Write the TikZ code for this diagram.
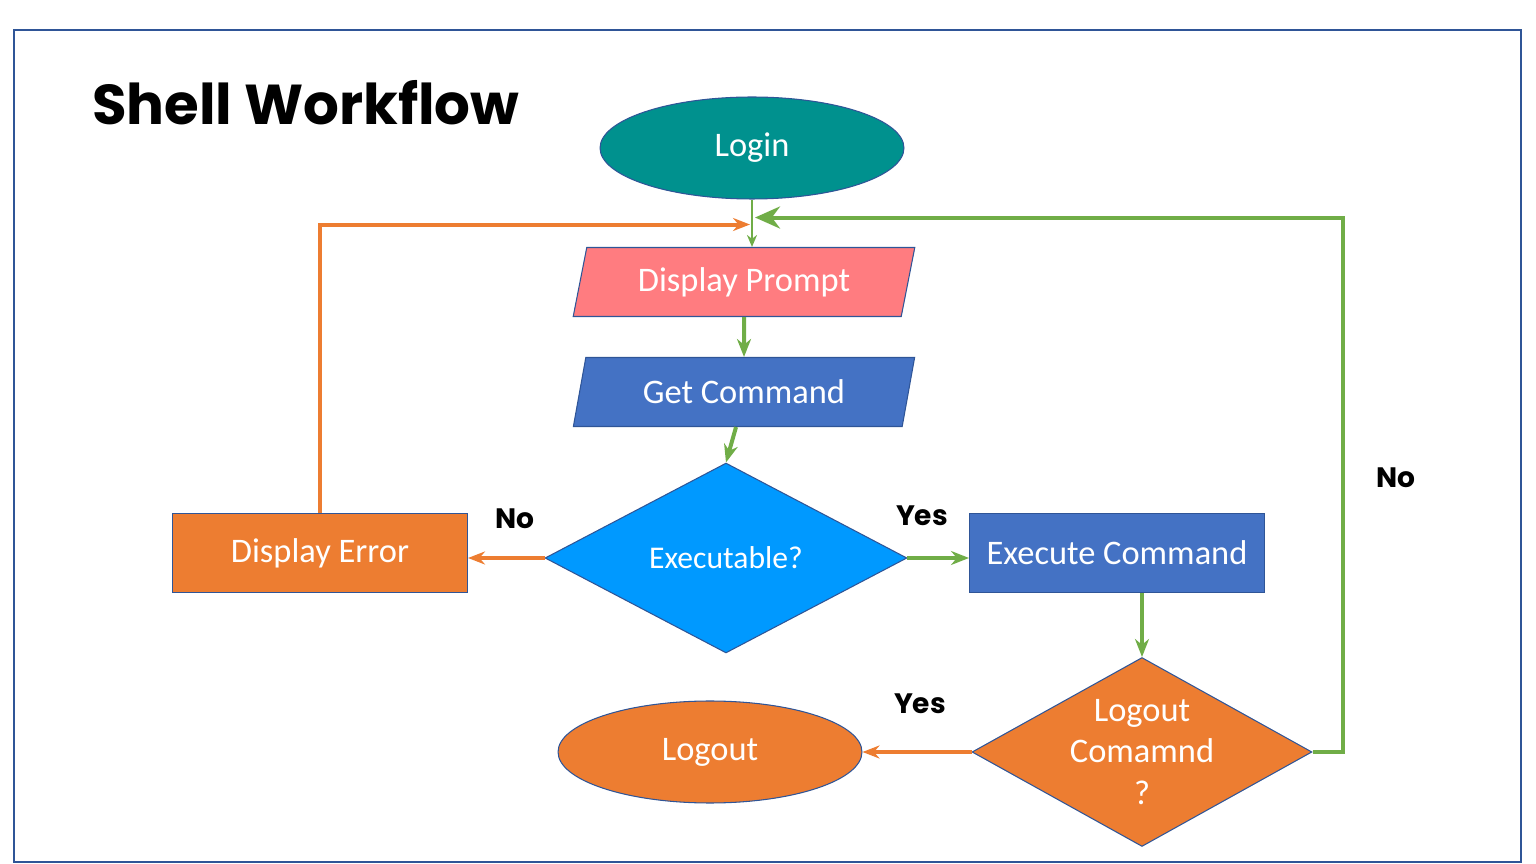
\documentclass[tikz,border=0pt]{standalone}
\usepackage{fontspec}
\setmainfont{Carlito}
\newfontfamily\handfont{Poppins}
\usepackage{xcolor}
\usepackage{tikz}
\usetikzlibrary{shapes.geometric,
                positioning,
                calc,
                arrows.meta}
\definecolor{frameblue}{HTML}{2F5597}
\definecolor{loginteal}{HTML}{00918E}
\definecolor{promptred}{HTML}{FF7C80}
\definecolor{cmdblue}{HTML}{4472C4}
\definecolor{decblue}{HTML}{0099FF}
\definecolor{erroorange}{HTML}{ED7D31}
\definecolor{gogreen}{HTML}{70AD47}
\tikzset{bodytext/.style = {text=white,
                     font=\fontsize{19.6}{23.5}\selectfont
                    },
         startstop/.style = {
                     ellipse, draw=frameblue, line width=0.6pt, bodytext,
                     minimum width=6.08cm, minimum height=2.04cm
         },
         ioslant/.style = {
                     trapezium, trapezium left angle=76.8,
                     trapezium right angle=103.2, trapezium stretches=true,
                     draw=frameblue, line width=0.6pt, bodytext,
                     minimum width=6.84cm, minimum height=1.38cm
         },
         flowbox/.style = {
                     rectangle, draw=frameblue, line width=0.6pt, bodytext,
                     minimum width=5.9cm, minimum height=1.58cm
         },
         decision/.style = {
                     diamond, draw=frameblue, line width=0.6pt, bodytext,
                     inner sep=0pt, aspect=1.8, align=center
         },
         handlabel/.style = {
                     font=\handfont\bfseries\fontsize{16}{19}\selectfont
         },
         goline/.style = {
                     draw=gogreen, line width=0.08cm,
                     -{Stealth[length=0.36cm,width=0.28cm]}
         },
         noline/.style = {
                     draw=erroorange, line width=0.08cm,
                     -{Stealth[length=0.34cm,width=0.26cm]}
         }
        }

\begin{document}
\begin{tikzpicture}[x=0.02cm,y=-0.02cm]
        \useasboundingbox (0,0) rectangle (1536,864);
        \draw[frameblue,line width=0.045cm] (14,30) rectangle (1521,862);

        \node[font=\handfont\bfseries\fontsize{32}{38}\selectfont,anchor=west] (title) at (86,103) {Shell Workflow};

        \node[startstop,fill=loginteal] (login) at (752,148) {Login};
        \node[ioslant,fill=promptred] (prompt) at (744,282) {Display Prompt};
        \node[ioslant,fill=cmdblue] (getcmd) at (744,392) {Get Command};
        \node[decision,fill=decblue,minimum width=7.24cm,minimum height=3.8cm,
              font=\fontsize{18}{22}\selectfont] (exec) at (726,558) {Executable?};
        \node[flowbox,fill=erroorange] (error) at (320,553) {Display Error};
        \node[flowbox,fill=cmdblue] (runcmd) at (1117,553) {Execute Command};
        \node[decision,fill=erroorange,minimum width=6.8cm,minimum height=3.78cm,
              font=\fontsize{19.6}{23.6}\selectfont] (logcmd) at (1142,752) {Logout\\Comamnd\\?};
        \node[startstop,fill=erroorange] (logout) at (710,752) {Logout};

        \node[handlabel] (noexec) at (515,519) {No};
        \node[handlabel] (yesexec) at (922,516) {Yes};
        \node[handlabel] (yeslog) at (920,704) {Yes};
        \node[handlabel] (nolog) at (1396,478) {No};

        \path[draw=gogreen,line width=0.04cm,-{Stealth[length=0.24cm,width=0.2cm]}] (login.south) -- (login.south |- prompt.north);
        \path[goline] (prompt.south) -- (getcmd.north);
        \path[goline] ([xshift=-0.16cm]getcmd.south) -- (exec.north);
        \path[noline] (exec.west) -- (exec.west -| error.east);
        \path[goline] (exec.east) -- (exec.east -| runcmd.west);
        \path[goline] (logcmd.north |- runcmd.south) -- (logcmd.north);
        \path[noline] (logcmd.west) -- (logout.east);
        \path[noline] (error.north) |- ($(login.south)+(-2,25)$);
        \path[goline,-{Stealth[length=0.5cm,width=0.44cm]}] (logcmd.east) -- ++(30,0) |- ($(login.south)+(3,18)$);
    \end{tikzpicture}
\end{document}
